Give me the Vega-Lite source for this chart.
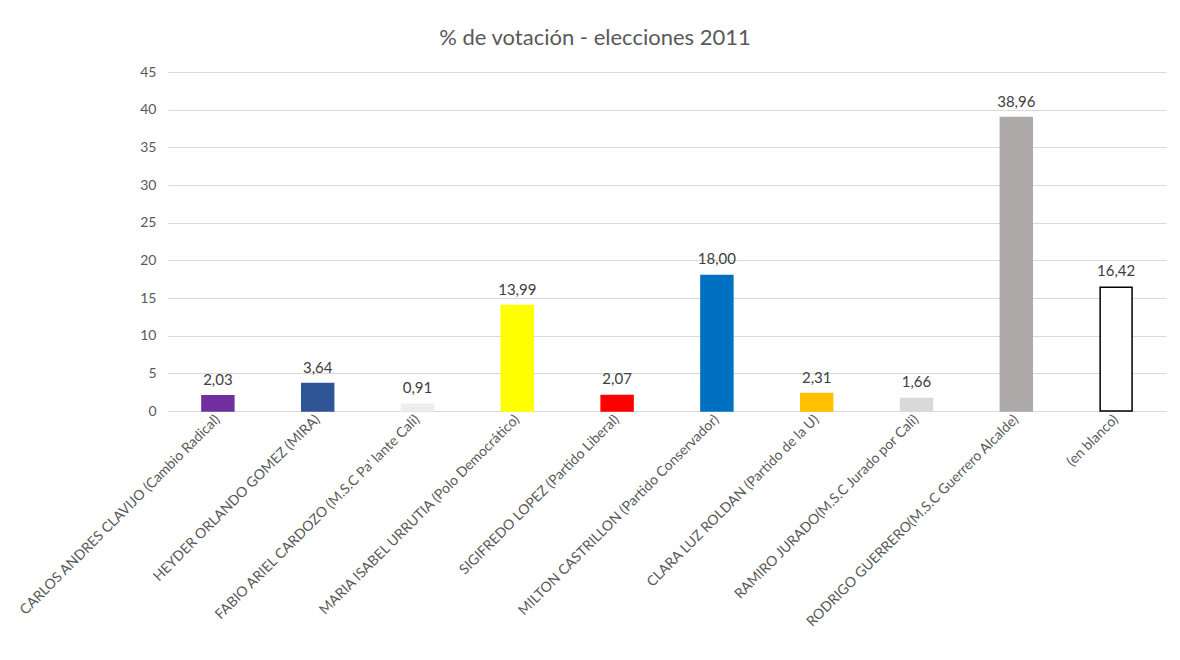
{
  "$schema": "https://vega.github.io/schema/vega-lite/v6.json",
  "autosize": {"type": "none"},
  "padding": {"left": 168, "top": 72, "right": 14, "bottom": 249},
  "width": 998,
  "height": 339,
  "background": "white",
  "title": {
    "text": "% de votación - elecciones 2011",
    "fontSize": 22,
    "font": "Lato",
    "fontWeight": "normal",
    "color": "#595959",
    "anchor": "middle",
    "frame": "group",
    "dx": -72,
    "offset": 15
  },
  "data": {
    "values": [
      {"cand": "CARLOS ANDRES CLAVIJO (Cambio Radical)", "pct": 2.03, "fill": "#7030A0", "stroke": "#7030A0"},
      {"cand": "HEYDER ORLANDO GOMEZ (MIRA)", "pct": 3.64, "fill": "#2F5597", "stroke": "#2F5597"},
      {"cand": "FABIO ARIEL CARDOZO (M.S.C Pa' lante Cali)", "pct": 0.91, "fill": "#EDEDED", "stroke": "#EDEDED"},
      {"cand": "MARIA ISABEL URRUTIA (Polo Democrático)", "pct": 13.99, "fill": "#FFFF00", "stroke": "#FFFF00"},
      {"cand": "SIGIFREDO LOPEZ  (Partido Liberal)", "pct": 2.07, "fill": "#FF0000", "stroke": "#FF0000"},
      {"cand": "MILTON CASTRILLON  (Partido Conservador)", "pct": 18.00, "fill": "#0070C0", "stroke": "#0070C0"},
      {"cand": "CLARA LUZ ROLDAN (Partido de la U)", "pct": 2.31, "fill": "#FFC000", "stroke": "#FFC000"},
      {"cand": "RAMIRO JURADO(M.S.C Jurado por Cali)", "pct": 1.66, "fill": "#D9D9D9", "stroke": "#D9D9D9"},
      {"cand": "RODRIGO GUERRERO(M.S.C Guerrero Alcalde)", "pct": 38.96, "fill": "#AEAAAA", "stroke": "#AEAAAA"},
      {"cand": "(en blanco)", "pct": 16.42, "fill": "#FFFFFF", "stroke": "#000000"}
    ]
  },
  "encoding": {
    "x": {
      "field": "cand",
      "type": "nominal",
      "sort": null,
      "scale": {"paddingInner": 0.68, "paddingOuter": 0.34},
      "axis": {
        "title": null,
        "labelAngle": -45,
        "labelAlign": "right",
        "labelBaseline": "middle",
        "labelPadding": 6,
        "labelFont": "Lato",
        "labelFontSize": 14,
        "labelColor": "#595959",
        "labelLimit": 400,
        "ticks": false,
        "domain": true,
        "domainColor": "#D9D9D9",
        "grid": false
      }
    },
    "y": {
      "field": "pct",
      "type": "quantitative",
      "scale": {"domain": [0, 45]},
      "axis": {
        "title": null,
        "values": [0, 5, 10, 15, 20, 25, 30, 35, 40, 45],
        "labelFont": "Lato",
        "labelFontSize": 14,
        "labelColor": "#595959",
        "labelPadding": 12,
        "ticks": false,
        "domain": false,
        "grid": true,
        "gridColor": "#D9D9D9",
        "gridWidth": 1
      }
    }
  },
  "layer": [
    {
      "mark": {"type": "bar", "strokeWidth": 1.5},
      "encoding": {
        "fill": {"field": "fill", "type": "nominal", "scale": null},
        "stroke": {"field": "stroke", "type": "nominal", "scale": null}
      }
    },
    {
      "mark": {"type": "text", "baseline": "bottom", "dy": -8, "font": "Lato", "fontSize": 15, "color": "#404040"},
      "encoding": {
        "text": {"field": "pct", "type": "quantitative", "format": ".2f"}
      }
    }
  ],
  "config": {
    "view": {"stroke": null},
    "locale": {
      "number": {"decimal": ",", "thousands": ".", "grouping": [3], "currency": ["", " €"]}
    }
  }
}
